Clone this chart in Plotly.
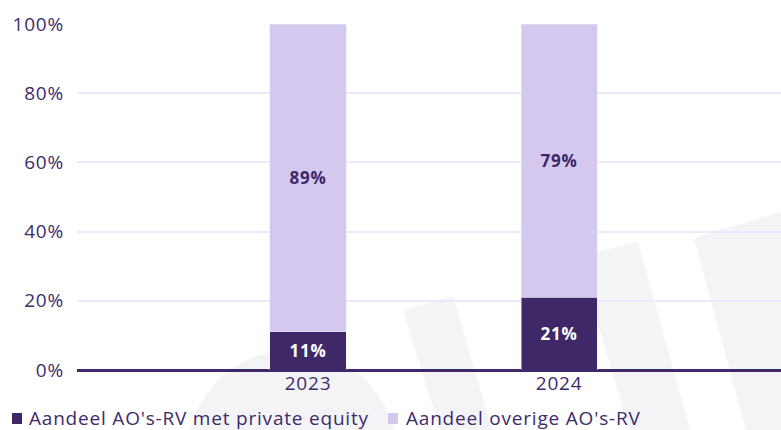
import plotly.graph_objects as go

years = ["2023", "2024"]
pe_share = [11, 21]
other_share = [89, 79]
series_names = ["Aandeel AO's-RV met private equity", "Aandeel overige AO's-RV"]
y_ticks = [0, 20, 40, 60, 80, 100]

DARK = "#3e2868"
LIGHT = "#d4c8ef"
TXT = "#3d2b6b"
WM = "#f4f4f7"
FONT = "Open Sans"
LS = "letter-spacing:0.8px"

# layout geometry (pixels)
L, T, B, W, H = 77, 24, 60, 781, 430
PW, PH = W - L, H - T - B


def px(x):
    return (x - L) / PW


def py(y):
    return (H - B - y) / PH


def sp(t):
    return f"<span style='{LS}'>{t}</span>"


def poly(pts):
    return "M " + " L ".join(f"{px(a):.4f},{py(b):.4f}" for a, b in pts) + " Z"


fig = go.Figure()
fig.add_trace(go.Bar(
    x=years, y=pe_share, name=series_names[0], marker_color=DARK, width=0.303,
    text=[sp(f"{v}%") for v in pe_share], textposition="inside", insidetextanchor="middle",
    textfont=dict(color="white", size=17, family=FONT, weight="bold"),
    showlegend=False, hoverinfo="skip",
))
fig.add_trace(go.Bar(
    x=years, y=other_share, name=series_names[1], marker_color=LIGHT, width=0.303,
    text=[sp(f"{v}%") for v in other_share], textposition="inside", insidetextanchor="middle",
    textfont=dict(color=DARK, size=17, family=FONT, weight="bold"),
    showlegend=False, hoverinfo="skip",
))

# faint background watermark (decoration)
shapes = [
    dict(type="circle", xref="paper", yref="paper", layer="below",
         x0=px(187), x1=px(397), y0=py(560), y1=py(350), fillcolor=WM, line_width=0),
    dict(type="path", xref="paper", yref="paper", layer="below",
         path=poly([(403, 310), (453, 296), (492, 430), (440, 430)]), fillcolor=WM, line_width=0),
    dict(type="path", xref="paper", yref="paper", layer="below",
         path=poly([(577, 257), (638, 242), (690, 430), (630, 430)]), fillcolor=WM, line_width=0),
    dict(type="path", xref="paper", yref="paper", layer="below",
         path=poly([(694, 238), (781, 212), (781, 430), (746, 430)]), fillcolor=WM, line_width=0),
    # legend swatches
    dict(type="rect", xref="paper", yref="paper", x0=px(12), x1=px(22), y0=py(424), y1=py(413),
         fillcolor=DARK, line_width=0),
    dict(type="rect", xref="paper", yref="paper", x0=px(388), x1=px(398), y0=py(424), y1=py(413),
         fillcolor=LIGHT, line_width=0),
]

fig.update_layout(
    barmode="stack",
    width=W, height=H,
    margin=dict(l=L, r=0, t=T, b=B, autoexpand=False),
    paper_bgcolor="white", plot_bgcolor="rgba(0,0,0,0)",
    font=dict(family=FONT, color=TXT, size=19),
    xaxis=dict(type="category", range=[-0.92, 1.884], showgrid=False, automargin=False,
               tickvals=years, ticktext=[sp(y) for y in years],
               tickfont=dict(size=19, color=TXT), ticks="", showline=False),
    yaxis=dict(range=[0, 100], tickvals=y_ticks, ticktext=[sp(f"{v}%") for v in y_ticks],
               automargin=False, ticklabelstandoff=12,
               gridcolor="#ece8fb", gridwidth=1.5, zeroline=True, zerolinecolor=DARK,
               zerolinewidth=2.5, tickfont=dict(size=19, color=TXT)),
    uniformtext=dict(minsize=10, mode="show"),
    shapes=shapes,
)

fig.add_annotation(
    xref="paper", yref="paper", x=px(27), y=py(418), xanchor="left", yanchor="middle",
    showarrow=False, text=sp(series_names[0]),
    font=dict(size=19, color=TXT, family=FONT),
)
fig.add_annotation(
    xref="paper", yref="paper", x=px(404), y=py(418), xanchor="left", yanchor="middle",
    showarrow=False, text=sp(series_names[1]),
    font=dict(size=19, color=TXT, family=FONT),
)

fig.write_html("out.html", config={"displayModeBar": False},
               post_script="document.body.style.margin='0';document.body.style.padding='0';")
